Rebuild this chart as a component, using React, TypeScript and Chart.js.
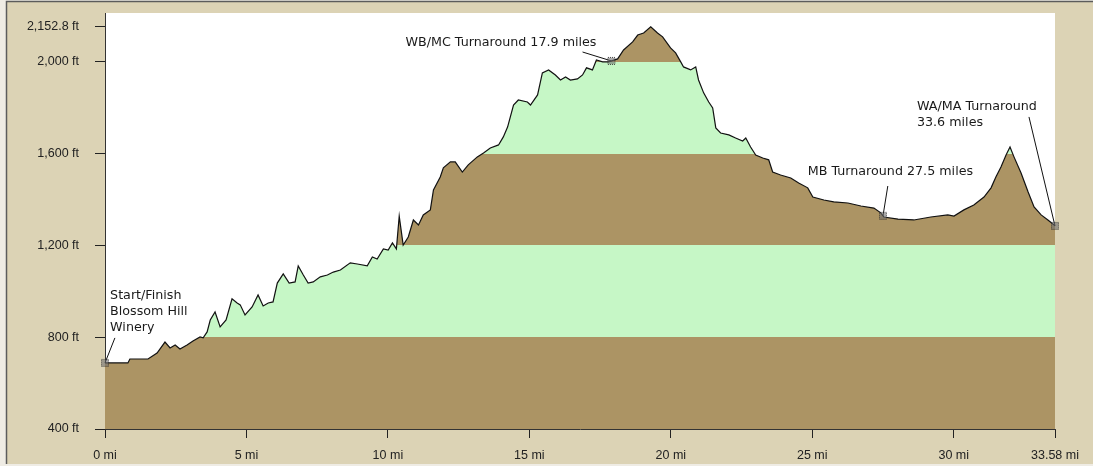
import React, { useEffect, useRef } from "react";
import { Chart, registerables } from "chart.js";

Chart.register(...registerables);

// ---- Data ----
const distanceMi = [
  0, 0.81, 0.88, 1.52, 1.84, 2.12, 2.3, 2.48, 2.65, 2.9, 3.11, 3.36, 3.47, 3.61, 3.72, 3.89, 4.07, 4.28, 4.49, 4.67,
  4.78, 4.95, 5.2, 5.41, 5.59, 5.77, 5.94, 6.09, 6.3, 6.51, 6.72, 6.83, 7.01, 7.18, 7.36, 7.61, 7.86, 8.07, 8.32, 8.67,
  8.92, 9.27, 9.45, 9.62, 9.84, 10.01, 10.16, 10.3, 10.4, 10.54, 10.72, 10.9, 11.08, 11.25, 11.5, 11.61, 11.85, 11.96, 12.21, 12.38,
  12.63, 12.84, 13.16, 13.38, 13.62, 13.91, 14.08, 14.23, 14.44, 14.61, 14.93, 15.04, 15.29, 15.46, 15.68, 15.92, 16.1, 16.28, 16.45, 16.7,
  16.88, 17.02, 17.23, 17.37, 17.59, 17.8, 18.12, 18.33, 18.65, 18.83, 19.04, 19.29, 19.53, 19.71, 19.99, 20.17, 20.35, 20.45, 20.7, 20.88,
  20.98, 21.16, 21.34, 21.48, 21.59, 21.76, 22.05, 22.29, 22.54, 22.65, 22.82, 23.0, 23.25, 23.46, 23.6, 23.88, 24.24, 24.52, 24.84, 25.02,
  25.41, 25.76, 26.26, 26.72, 27.18, 27.42, 27.53, 28.03, 28.59, 29.19, 29.79, 30.01, 30.36, 30.71, 31.07, 31.32, 31.49, 31.67, 31.85, 31.99,
  32.13, 32.38, 32.63, 32.84, 33.09, 33.33, 33.55, 33.58,
];
const elevationFt = [
  688, 688, 705, 705, 731, 779, 753, 766, 749, 766, 784, 801, 797, 823, 875, 910, 845, 875, 967, 949,
  941, 897, 932, 984, 936, 949, 954, 1036, 1076, 1036, 1041, 1111, 1071, 1036, 1041, 1063, 1071, 1084, 1093, 1124,
  1119, 1111, 1150, 1141, 1185, 1180, 1211, 1185, 1328, 1202, 1237, 1311, 1289, 1333, 1355, 1442, 1498, 1538, 1564, 1564,
  1520, 1551, 1586, 1603, 1625, 1638, 1673, 1716, 1812, 1834, 1825, 1812, 1856, 1952, 1965, 1943, 1921, 1934, 1921, 1926,
  1943, 1974, 1965, 2008, 2000, 2000, 2013, 2052, 2087, 2117, 2126, 2152.8, 2126, 2109, 2061, 2039, 2000, 1978, 1965, 1978,
  1921, 1865, 1825, 1799, 1712, 1690, 1682, 1668, 1655, 1668, 1629, 1594, 1581, 1573, 1520, 1507, 1494, 1472, 1451, 1411,
  1398, 1390, 1385, 1372, 1363, 1342, 1324, 1315, 1311, 1324, 1333, 1328, 1355, 1376, 1411, 1451, 1498, 1542, 1594, 1629,
  1586, 1516, 1433, 1368, 1333, 1311, 1289, 1285,
];

const yTickValues = [400, 800, 1200, 1600, 2000, 2152.8];
const xTickValues = [0, 5, 10, 15, 20, 25, 30, 33.58];
const yMin = 400;
const yMax = 2213;
const xMax = 33.58;

const bandEdgesFt = [800, 1200, 1600, 2000];
const bandColors = ["#AC9464", "#C6F7C6", "#AC9464", "#C6F7C6", "#AC9464"];

// Annotations
const annotationTexts = [
  ["Start/Finish", "Blossom Hill", "Winery"],
  ["WB/MC Turnaround 17.9 miles"],
  ["MB Turnaround 27.5 miles"],
  ["WA/MA Turnaround", "33.6 miles"],
];
const markerMiles = [0, 17.9, 27.5, 33.58];
const textMi = [0.18, 10.62, 24.84, 28.7];
const textFt = [980, 2083, 1520, 1804];
const leaderMi = [0.35, 16.88, 27.67, 32.66];
const leaderFt = [797, 2043, 1459, 1760];

function elevationAt(mi: number): number {
  for (let i = 1; i < distanceMi.length; i++) {
    if (mi <= distanceMi[i]) {
      const a = distanceMi[i - 1];
      const b = distanceMi[i];
      const t = b === a ? 0 : (mi - a) / (b - a);
      return elevationFt[i - 1] + t * (elevationFt[i] - elevationFt[i - 1]);
    }
  }
  return elevationFt[elevationFt.length - 1];
}

const framePlugin = {
  id: "frame",
  beforeDraw(chart: any) {
    const { ctx, chartArea, width, height } = chart;
    ctx.save();
    ctx.fillStyle = "#EFECE4";
    ctx.fillRect(0, 0, width, height);
    ctx.fillStyle = "#DCD3B5";
    ctx.fillRect(6, 1, width - 6, height - 3);
    ctx.strokeStyle = "#5c5c5c";
    ctx.lineWidth = 1.5;
    ctx.beginPath();
    ctx.moveTo(6.5, height - 2);
    ctx.lineTo(6.5, 1.5);
    ctx.lineTo(width, 1.5);
    ctx.stroke();
    ctx.fillStyle = "#ffffff";
    ctx.fillRect(chartArea.left, chartArea.top, chartArea.right - chartArea.left, chartArea.bottom - chartArea.top);
    ctx.restore();
  },
};

const annotationPlugin = {
  id: "annotations",
  afterDatasetsDraw(chart: any) {
    const { ctx, scales } = chart;
    const xs = scales.x;
    const ys = scales.y;
    ctx.save();
    ctx.font = "12.7px 'DejaVu Sans', Verdana, sans-serif";
    ctx.textBaseline = "middle";
    ctx.textAlign = "left";
    annotationTexts.forEach((lines, i) => {
      const mx = xs.getPixelForValue(markerMiles[i]);
      const my = ys.getPixelForValue(elevationAt(markerMiles[i]));
      const lx = xs.getPixelForValue(leaderMi[i]);
      const ly = ys.getPixelForValue(leaderFt[i]);
      ctx.strokeStyle = "#111";
      ctx.lineWidth = 1;
      ctx.beginPath();
      ctx.moveTo(lx, ly);
      ctx.lineTo(mx, my);
      ctx.stroke();
      ctx.fillStyle = "rgba(110,110,110,0.6)";
      ctx.fillRect(mx - 3, my - 3, 6, 6);
      ctx.strokeStyle = "#333";
      ctx.setLineDash([1, 1]);
      ctx.strokeRect(mx - 3.5, my - 3.5, 7, 7);
      ctx.setLineDash([]);
      const tx = xs.getPixelForValue(textMi[i]);
      const ty = ys.getPixelForValue(textFt[i]);
      ctx.fillStyle = "#1a1a1a";
      lines.forEach((t, k) => {
        ctx.fillText(t, tx, ty + k * 16);
      });
    });
    ctx.restore();
  },
};

function fmtFt(v: number): string {
  return v.toLocaleString("en-US", { maximumFractionDigits: 1 }) + " ft";
}

export default function App() {
  const canvasRef = useRef<HTMLCanvasElement | null>(null);

  useEffect(() => {
    if (!canvasRef.current) return;
    const chart = new Chart(canvasRef.current, {
      type: "line",
      data: {
        datasets: [
          {
            data: distanceMi.map((x, i) => ({ x, y: elevationFt[i] })),
            borderColor: "#111",
            borderWidth: 1.2,
            pointRadius: 0,
            tension: 0,
            fill: "start",
            backgroundColor: (c: any) => {
              const ch = c.chart;
              const { chartArea, scales } = ch;
              if (!chartArea || !scales.y) return bandColors[0];
              const y = scales.y;
              const y0 = y.getPixelForValue(yMin);
              const y1 = y.getPixelForValue(yMax);
              const g = ch.ctx.createLinearGradient(0, y0, 0, y1);
              const off = (v: number) => Math.min(1, Math.max(0, (y0 - y.getPixelForValue(v)) / (y0 - y1)));
              g.addColorStop(0, bandColors[0]);
              bandEdgesFt.forEach((e, k) => {
                g.addColorStop(off(e), bandColors[k]);
                g.addColorStop(off(e), bandColors[k + 1]);
              });
              g.addColorStop(1, bandColors[bandColors.length - 1]);
              return g;
            },
          },
        ],
      },
      options: {
        animation: false,
        responsive: false,
        maintainAspectRatio: false,
        layout: { padding: { top: 13, right: 38, left: 0, bottom: 0 } },
        plugins: {
          legend: { display: false },
          tooltip: { enabled: false },
          title: { display: false },
        },
        scales: {
          x: {
            type: "linear",
            min: 0,
            max: xMax,
            afterBuildTicks: (s: any) => {
              s.ticks = xTickValues.map((v) => ({ value: v }));
            },
            afterFit: (s: any) => {
              s.height = 37;
              s.paddingLeft = 0;
              s.paddingRight = 0;
            },
            ticks: {
              autoSkip: false,
              maxRotation: 0,
              padding: 10,
              color: "#222",
              font: { family: "'Liberation Sans', Arial, sans-serif", size: 12.5 },
              callback: (v: any) => `${v} mi`,
            },
            grid: { drawOnChartArea: false, drawTicks: true, tickLength: 9, tickColor: "#222", color: "#222" },
            border: { display: true, color: "#333", width: 1 },
          },
          y: {
            type: "linear",
            min: yMin,
            max: yMax,
            afterBuildTicks: (s: any) => {
              s.ticks = yTickValues.map((v) => ({ value: v }));
            },
            afterFit: (s: any) => {
              s.width = 105;
              s.paddingTop = 0;
              s.paddingBottom = 0;
            },
            ticks: {
              autoSkip: false,
              padding: 16,
              color: "#222",
              font: { family: "'Liberation Sans', Arial, sans-serif", size: 12.5 },
              callback: (v: any) => fmtFt(Number(v)),
            },
            grid: { drawOnChartArea: false, drawTicks: true, tickLength: 10, tickColor: "#222", color: "#222" },
            border: { display: true, color: "#333", width: 1 },
          },
        },
      },
      plugins: [framePlugin, annotationPlugin],
    });
    return () => chart.destroy();
  }, []);

  return (
    <div style={{ position: "absolute", left: 0, top: 0, width: 1093, height: 466 }}>
      <canvas ref={canvasRef} width={1093} height={466} style={{ display: "block", width: 1093, height: 466 }} />
    </div>
  );
}
